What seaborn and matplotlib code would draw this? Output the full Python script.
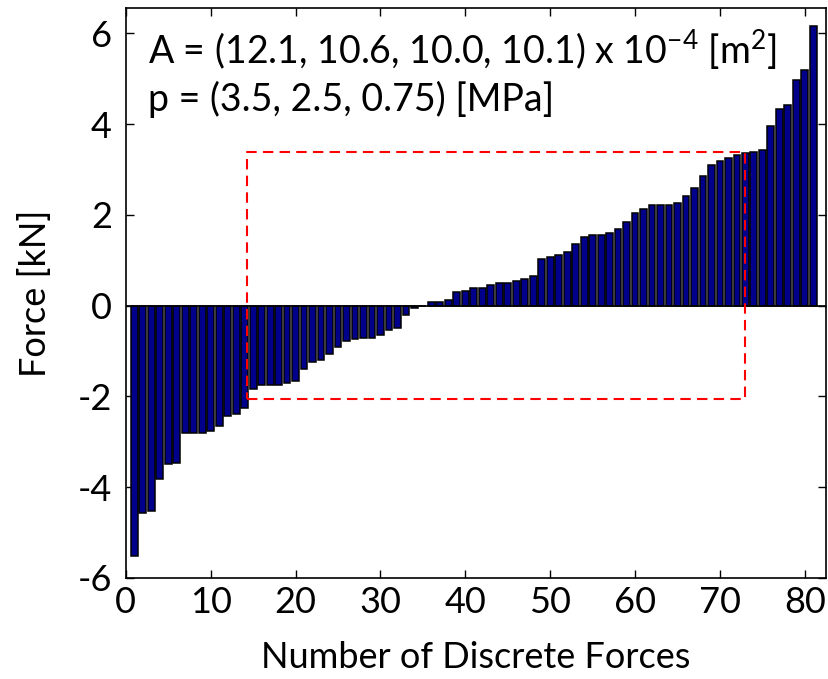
import numpy as np
import pandas as pd
import matplotlib
matplotlib.use("Agg")
import matplotlib.pyplot as plt
import seaborn as sns

# Discrete force values, sorted ascending [kN]
force_kn = [
    -5.53, -4.57, -4.52, -3.83, -3.50, -3.46, -2.81, -2.81, -2.81, -2.77,
    -2.65, -2.44, -2.40, -2.25, -1.84, -1.76, -1.76, -1.76, -1.71, -1.67,
    -1.40, -1.24, -1.19, -1.07, -0.91, -0.78, -0.74, -0.71, -0.71, -0.66,
    -0.54, -0.50, -0.21, -0.05, -0.01, 0.08, 0.08, 0.13, 0.29, 0.33,
    0.38, 0.38, 0.45, 0.50, 0.50, 0.53, 0.58, 0.66, 1.02, 1.07,
    1.11, 1.19, 1.35, 1.51, 1.56, 1.56, 1.60, 1.68, 1.85, 2.05,
    2.12, 2.21, 2.21, 2.21, 2.25, 2.41, 2.58, 2.85, 3.10, 3.18,
    3.26, 3.31, 3.37, 3.39, 3.42, 3.95, 4.33, 4.41, 4.98, 5.18, 6.15,
]
force_index = list(range(1, len(force_kn) + 1))

# Highlighted region (force index range, force range)
region_x = [14.3, 72.9]
region_y = [-2.05, 3.38]

x_ticks = [0, 10, 20, 30, 40, 50, 60, 70, 80]
y_ticks = [-6, -4, -2, 0, 2, 4, 6]

area_text = "A = (12.1, 10.6, 10.0, 10.1) x 10$^{-4}$ [m$^{2}$]"
pressure_text = "p = (3.5, 2.5, 0.75) [MPa]"

sns.set_theme(style="white")
plt.rcParams["font.family"] = ["Lato", "DejaVu Sans"]
plt.rcParams["mathtext.fontset"] = "custom"
plt.rcParams["mathtext.rm"] = "Lato"
plt.rcParams["mathtext.it"] = "Lato:italic"
plt.rcParams["mathtext.default"] = "regular"
plt.rcParams["text.color"] = "black"
plt.rcParams["axes.labelcolor"] = "black"
plt.rcParams["xtick.color"] = "black"
plt.rcParams["ytick.color"] = "black"

FS = 26

df = pd.DataFrame({"n": force_index, "force": force_kn})

fig = plt.figure(figsize=(8.29, 6.79), dpi=100)
ax = fig.add_axes([0.1518, 0.149, 0.8446, 0.8388])

sns.barplot(data=df, x="n", y="force", native_scale=True, width=0.8,
            color="#00008B", saturation=1, edgecolor="black", linewidth=1.1,
            ax=ax, zorder=2)

ax.axhline(0, color="black", lw=1.2, zorder=3)

# dashed rectangle around the central range
rx = [region_x[0], region_x[1], region_x[1], region_x[0], region_x[0]]
ry = [region_y[0], region_y[0], region_y[1], region_y[1], region_y[0]]
ax.plot(rx, ry, color="#FF0000", lw=1.5, dashes=(5, 3), zorder=4)

ax.set_xlim(0, 82.5)
ax.set_ylim(-6, 6.55)
ax.set_xticks(x_ticks)
ax.set_yticks(y_ticks)
ax.set_xticklabels([str(t) for t in x_ticks])
ax.set_yticklabels([str(t) for t in y_ticks])

ax.tick_params(axis="both", direction="in", length=6, width=1, color="black",
               labelcolor="black", labelsize=FS,
               top=True, right=True, bottom=True, left=True)
ax.tick_params(axis="y", pad=10)
ax.tick_params(axis="x", pad=6)
for s in ax.spines.values():
    s.set_visible(True)
    s.set_color("black")
    s.set_linewidth(1.2)

ax.set_xlabel("Number of Discrete Forces", fontsize=FS, labelpad=16,
              color="black")
ax.set_ylabel("Force [kN]", fontsize=FS, labelpad=18, color="black")

ax.text(2.6, 5.64, area_text, fontsize=FS + 1, va="center", ha="left",
        color="black", zorder=5)
ax.text(2.6, 4.54, pressure_text, fontsize=FS + 1, va="center", ha="left",
        color="black", zorder=5)

fig.savefig("out.png", dpi=100)
